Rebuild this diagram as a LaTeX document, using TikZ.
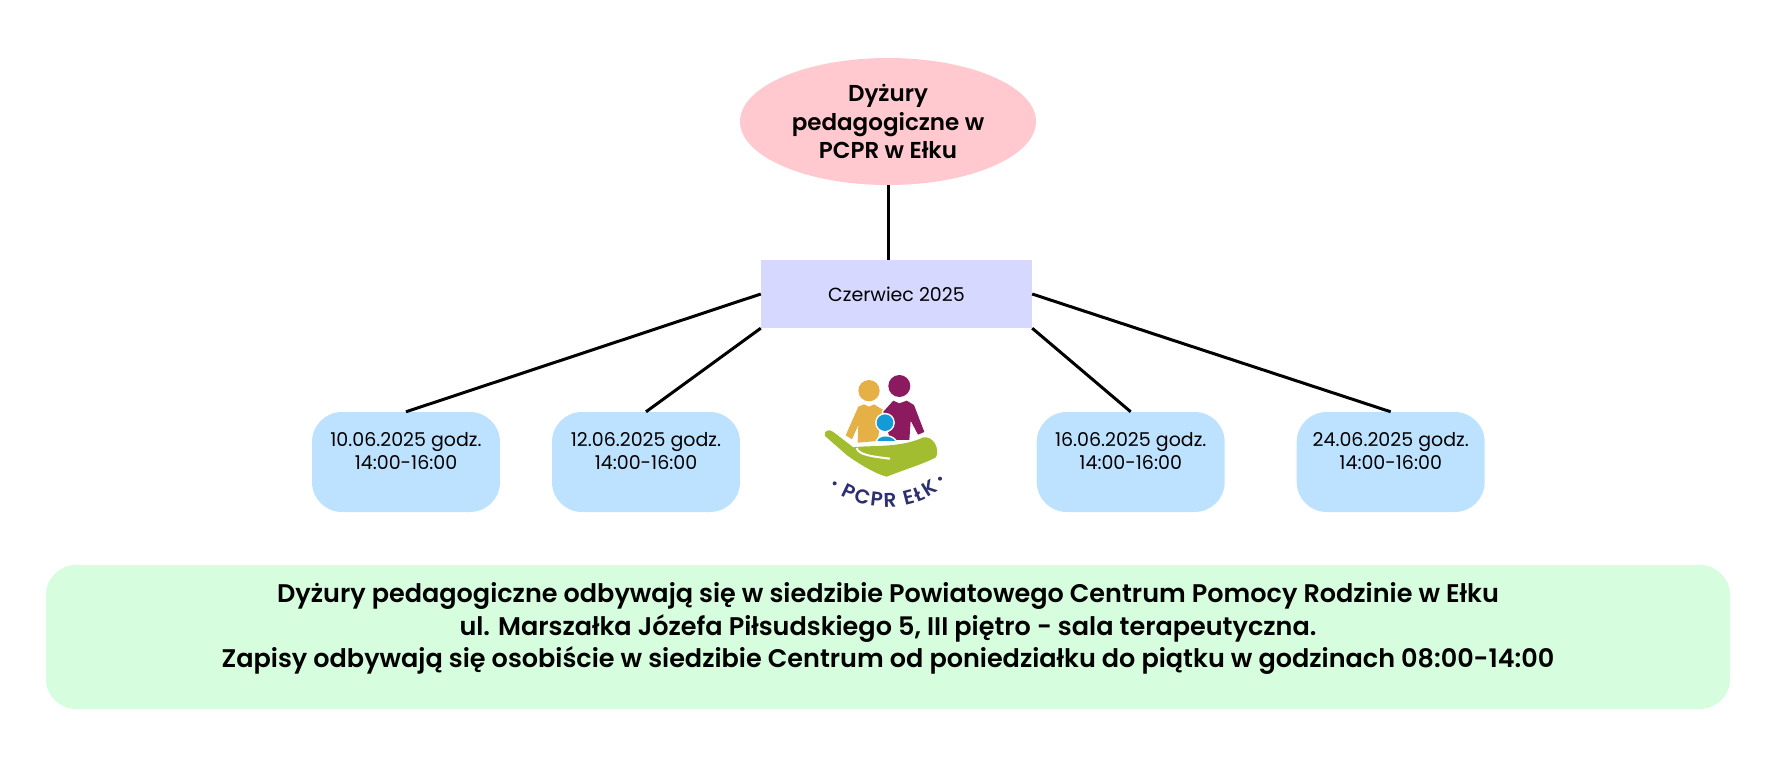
\documentclass[tikz,border=0pt]{standalone}
\usepackage{fontspec}
\setmainfont{Poppins}
\newfontfamily\semifont{Poppins SemiBold}
\usetikzlibrary{shapes.geometric, decorations.text}
\definecolor{ovalpink}{HTML}{FFC9CF}
\definecolor{monthlilac}{HTML}{D6D8FF}
\definecolor{dateblue}{HTML}{BDE2FF}
\definecolor{infogreen}{HTML}{D6FDDD}
\definecolor{logoyellow}{HTML}{E5B045}
\definecolor{logomaroon}{HTML}{8C1A5E}
\definecolor{logocyan}{HTML}{139BD8}
\definecolor{logogreen}{HTML}{A3BD31}
\definecolor{logonavy}{HTML}{2C3070}
\tikzset{
	oval/.style={ellipse,fill=ovalpink,minimum width=296pt,minimum height=127pt,inner sep=0pt,align=center,font=\semifont\fontsize{23}{28.5}\selectfont},
	monthbox/.style={rectangle,fill=monthlilac,minimum width=271pt,minimum height=68pt,inner sep=0pt,font=\fontsize{19}{23}\selectfont},
	datebox/.style={rectangle,rounded corners=30pt,fill=dateblue,minimum width=188pt,minimum height=100pt,inner sep=0pt,align=center,font=\fontsize{19}{23}\selectfont},
	infobox/.style={rectangle,rounded corners=30pt,fill=infogreen,minimum width=1684pt,minimum height=144pt,inner sep=0pt,align=center,font=\semifont\fontsize{25.5}{32.5}\selectfont},
	link/.style={line width=3pt,black},
	logopart/.style={preaction={draw=white,line width=3pt}}
}
\begin{document}
\begin{tikzpicture}[x=1pt,y=-1pt]
	\useasboundingbox (0,0) rectangle (1789,767);
	% Top
	\node[oval] (dyzury) at (888,121.5) {Dyżury\\pedagogiczne w\hspace*{20pt}\\PCPR w Ełku};
	\node[monthbox] (czerwiec) at (896.5,294) {Czerwiec 2025};
	% Dates
	\foreach \nm/\cx/\dzien in {d10/406/10,d12/646/12,d16/1130.7/16,d24/1390.7/24}{
		\node[datebox] (\nm) at (\cx,462) {\dzien.06.2025 godz.\\14:00-16:00\\\mbox{}};
	}
	% Info
	\node[infobox] (info) at (888,637) {Dyżury pedagogiczne odbywają się w siedzibie Powiatowego Centrum Pomocy Rodzinie w Ełku\\ul. Marszałka Józefa Piłsudskiego 5, III piętro - sala terapeutyczna.\\Zapisy odbywają się osobiście w siedzibie Centrum od poniedziałku do piątku w godzinach 08:00-14:00\\[-9pt]\mbox{}};
	% Lines
	\draw[link] (dyzury.south) -- (dyzury.south |- czerwiec.north);
	\draw[link] (czerwiec.west) -- (d10.north);
	\draw[link] (czerwiec.south west) -- (d12.north);
	\draw[link] (czerwiec.south east) -- (d16.north);
	\draw[link] (czerwiec.east) -- (d24.north);
	% Logo
	\begin{scope}[shift={(790,360)},scale=1/3]
		\fill[logoyellow] (237,92) circle (32);
		\fill[logomaroon] (328,78) circle (33);
		\fill[logoyellow] (205,140) -- (222,133) -- (237,140) -- (252,133) -- (280,150) -- (262,243) -- (203,248) -- (205,195) -- (186,238) -- (167,226) -- cycle;
		\fill[logomaroon,logopart] (280,155) -- (310,122) -- (328,130) -- (350,122) -- (372,135) -- (403,216) -- (384,224) -- (362,182) -- (358,240) -- (300,240) -- cycle;
		\fill[logocyan,logopart] (285,188) circle (25);
		\fill[logocyan,logopart] (262,243) .. controls (268,225) and (304,225) .. (316,243) -- cycle;
		\fill[logogreen,logopart] (105,228) .. controls (100,212) and (118,205) .. (130,216) -- (190,262) .. controls (240,255) and (330,265) .. (400,232) .. controls (430,228) and (450,265) .. (438,292) .. controls (400,312) and (340,330) .. (290,350) .. controls (250,340) and (190,300) .. (170,285) -- cycle;
		\draw[white,line width=2pt] (200,264) .. controls (205,285) and (250,290) .. (300,296);
		\fill[logonavy] (134,370) circle (6);
		\fill[logonavy] (450,356) circle (6);
		\path[decorate,decoration={text along path,text align={fit to path},text color=logonavy,text={|\semifont\fontsize{20}{20}\selectfont|PCPR EŁK}}] (152,405) .. controls (240,455) and (360,455) .. (446,392);
	\end{scope}
\end{tikzpicture}
\end{document}
